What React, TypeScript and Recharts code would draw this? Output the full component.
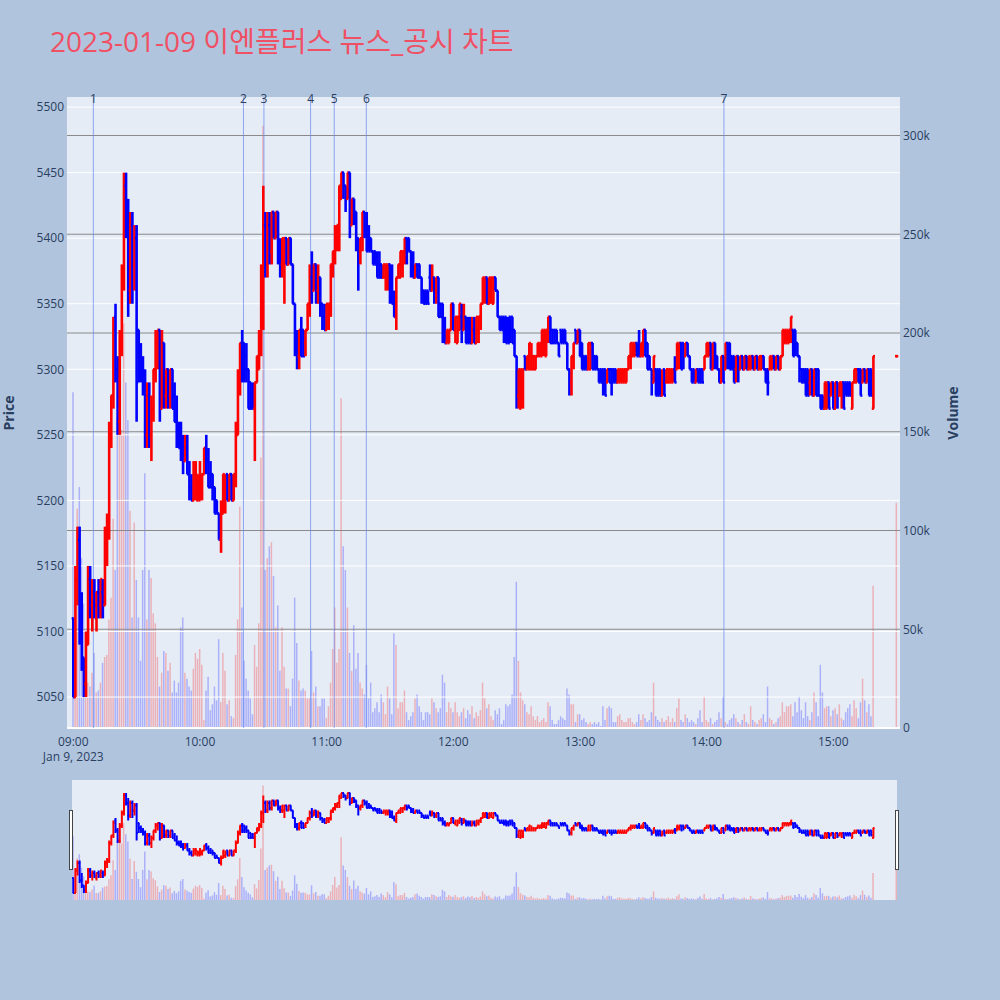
import React from "react";
import { ComposedChart, Bar, Cell, Scatter, XAxis, YAxis, ReferenceLine } from "recharts";

// 1-minute bars, 09:00 .. 15:19, plus the closing auction at 15:30
const opens = [
  5110, 5050, 5140, 5170, 5100, 5080, 5060, 5090, 5140, 5120,
  5130, 5110, 5130, 5120, 5130, 5120, 5170, 5180, 5250, 5280,
  5340, 5300, 5260, 5320, 5370, 5440, 5410, 5360, 5410, 5380,
  5400, 5330, 5310, 5300, 5290, 5250, 5280, 5250, 5270, 5300,
  5320, 5330, 5270, 5320, 5280, 5300, 5280, 5300, 5280, 5260,
  5250, 5250, 5240, 5230, 5240, 5220, 5210, 5200, 5210, 5200,
  5200, 5210, 5220, 5240, 5230, 5220, 5220, 5210, 5200, 5190,
  5170, 5190, 5200, 5220, 5200, 5220, 5200, 5220, 5250, 5290,
  5320, 5320, 5310, 5300, 5290, 5280, 5270, 5290, 5300, 5320,
  5370, 5410, 5380, 5410, 5390, 5420, 5400, 5420, 5390, 5380,
  5380, 5400, 5380, 5400, 5380, 5350, 5320, 5310, 5330, 5330,
  5320, 5330, 5350, 5370, 5360, 5380, 5360, 5370, 5350, 5340,
  5330, 5340, 5350, 5380, 5390, 5400, 5410, 5430, 5450, 5440,
  5430, 5450, 5410, 5430, 5420, 5400, 5390, 5400, 5420, 5410,
  5400, 5400, 5390, 5390, 5380, 5380, 5380, 5370, 5370, 5370,
  5380, 5360, 5350, 5340, 5370, 5370, 5380, 5390, 5400, 5400,
  5390, 5380, 5370, 5380, 5380, 5370, 5360, 5360, 5360, 5370,
  5360, 5370, 5360, 5370, 5350, 5350, 5330, 5320, 5320, 5330,
  5350, 5330, 5320, 5330, 5340, 5330, 5340, 5330, 5330, 5320,
  5330, 5320, 5330, 5340, 5350, 5360, 5370, 5350, 5360, 5350,
  5370, 5360, 5340, 5340, 5340, 5340, 5330, 5340, 5340, 5330,
  5310, 5280, 5270, 5280, 5310, 5300, 5300, 5300, 5300, 5300,
  5310, 5310, 5310, 5320, 5310, 5330, 5340, 5330, 5330, 5330,
  5320, 5330, 5330, 5330, 5320, 5300, 5290, 5310, 5330, 5320,
  5330, 5320, 5310, 5310, 5300, 5300, 5320, 5310, 5310, 5300,
  5300, 5300, 5300, 5290, 5300, 5300, 5300, 5300, 5290, 5290,
  5290, 5290, 5290, 5300, 5310, 5310, 5310, 5320, 5320, 5310,
  5310, 5330, 5320, 5310, 5300, 5290, 5300, 5300, 5300, 5280,
  5300, 5290, 5290, 5290, 5290, 5300, 5300, 5310, 5320, 5320,
  5310, 5320, 5310, 5300, 5300, 5290, 5300, 5300, 5300, 5300,
  5310, 5310, 5320, 5300, 5320, 5310, 5300, 5290, 5310, 5300,
  5320, 5320, 5310, 5310, 5300, 5310, 5300, 5310, 5300, 5310,
  5300, 5300, 5310, 5300, 5310, 5300, 5300, 5310, 5300, 5300,
  5300, 5300, 5310, 5300, 5310, 5300, 5310, 5320, 5320, 5320,
  5330, 5330, 5330, 5320, 5310, 5300, 5300, 5300, 5300, 5290,
  5300, 5280, 5300, 5300, 5280, 5280, 5270, 5270, 5290, 5280,
  5290, 5270, 5290, 5280, 5280, 5290, 5290, 5290, 5290, 5270,
  5290, 5290, 5300, 5300, 5290, 5300, 5290, 5300, 5300, 5270,
];
const highs = [
  5110, 5150, 5180, 5180, 5130, 5080, 5100, 5150, 5150, 5140,
  5140, 5130, 5140, 5140, 5140, 5180, 5190, 5260, 5280, 5340,
  5350, 5310, 5330, 5380, 5450, 5450, 5430, 5420, 5420, 5410,
  5410, 5330, 5320, 5310, 5300, 5290, 5290, 5280, 5300, 5330,
  5330, 5330, 5330, 5320, 5300, 5300, 5300, 5300, 5290, 5280,
  5260, 5260, 5250, 5250, 5250, 5230, 5220, 5230, 5230, 5220,
  5230, 5220, 5240, 5250, 5240, 5230, 5220, 5210, 5200, 5190,
  5200, 5220, 5220, 5220, 5220, 5220, 5220, 5260, 5300, 5320,
  5330, 5320, 5320, 5300, 5290, 5290, 5290, 5310, 5330, 5380,
  5440, 5420, 5420, 5420, 5420, 5420, 5420, 5420, 5400, 5400,
  5400, 5400, 5400, 5400, 5380, 5350, 5330, 5330, 5340, 5330,
  5330, 5350, 5380, 5390, 5380, 5380, 5380, 5370, 5350, 5350,
  5350, 5350, 5380, 5390, 5410, 5410, 5440, 5450, 5450, 5440,
  5450, 5450, 5430, 5430, 5420, 5400, 5400, 5420, 5420, 5420,
  5410, 5400, 5390, 5390, 5390, 5390, 5380, 5380, 5380, 5380,
  5380, 5380, 5360, 5370, 5380, 5390, 5390, 5400, 5400, 5400,
  5390, 5390, 5380, 5380, 5380, 5370, 5360, 5360, 5360, 5380,
  5380, 5370, 5370, 5370, 5350, 5350, 5340, 5330, 5330, 5350,
  5350, 5340, 5340, 5350, 5350, 5350, 5340, 5340, 5340, 5340,
  5340, 5340, 5340, 5350, 5370, 5370, 5370, 5370, 5370, 5370,
  5370, 5360, 5340, 5340, 5340, 5340, 5340, 5340, 5340, 5330,
  5310, 5300, 5300, 5300, 5310, 5310, 5320, 5320, 5310, 5310,
  5320, 5320, 5330, 5330, 5330, 5340, 5340, 5330, 5330, 5330,
  5320, 5330, 5330, 5330, 5320, 5300, 5310, 5320, 5330, 5330,
  5330, 5320, 5310, 5310, 5320, 5320, 5320, 5310, 5310, 5300,
  5300, 5300, 5300, 5300, 5300, 5300, 5300, 5300, 5300, 5300,
  5300, 5300, 5300, 5310, 5320, 5320, 5320, 5320, 5330, 5320,
  5330, 5330, 5320, 5310, 5300, 5310, 5300, 5300, 5300, 5300,
  5300, 5300, 5300, 5300, 5300, 5310, 5320, 5320, 5320, 5320,
  5320, 5320, 5310, 5300, 5300, 5300, 5300, 5300, 5300, 5310,
  5320, 5320, 5320, 5320, 5320, 5310, 5300, 5310, 5310, 5320,
  5320, 5320, 5310, 5310, 5310, 5310, 5310, 5310, 5310, 5310,
  5310, 5310, 5310, 5310, 5310, 5310, 5310, 5310, 5300, 5300,
  5310, 5310, 5310, 5310, 5310, 5310, 5330, 5330, 5330, 5330,
  5340, 5330, 5330, 5320, 5310, 5300, 5300, 5300, 5300, 5300,
  5300, 5300, 5300, 5300, 5280, 5280, 5290, 5290, 5290, 5290,
  5290, 5290, 5290, 5290, 5290, 5290, 5290, 5290, 5290, 5290,
  5300, 5300, 5300, 5300, 5300, 5300, 5300, 5300, 5300, 5310,
];
const lows = [
  5050, 5050, 5120, 5090, 5070, 5050, 5050, 5090, 5110, 5100,
  5110, 5100, 5110, 5110, 5110, 5120, 5150, 5170, 5240, 5270,
  5290, 5250, 5250, 5310, 5360, 5400, 5340, 5350, 5350, 5360,
  5260, 5290, 5290, 5280, 5240, 5240, 5240, 5230, 5260, 5290,
  5300, 5260, 5270, 5270, 5270, 5270, 5270, 5270, 5260, 5240,
  5240, 5230, 5220, 5230, 5220, 5200, 5200, 5200, 5200, 5200,
  5200, 5200, 5220, 5220, 5210, 5210, 5200, 5190, 5190, 5170,
  5160, 5190, 5190, 5200, 5200, 5200, 5200, 5210, 5250, 5280,
  5290, 5290, 5290, 5270, 5270, 5270, 5230, 5290, 5300, 5310,
  5330, 5370, 5370, 5380, 5380, 5400, 5400, 5380, 5370, 5370,
  5350, 5380, 5380, 5380, 5350, 5310, 5300, 5300, 5310, 5310,
  5310, 5330, 5340, 5350, 5360, 5350, 5350, 5340, 5330, 5330,
  5330, 5330, 5340, 5370, 5380, 5390, 5390, 5430, 5430, 5420,
  5430, 5400, 5410, 5410, 5390, 5360, 5380, 5390, 5400, 5390,
  5390, 5390, 5380, 5380, 5370, 5370, 5370, 5370, 5360, 5360,
  5350, 5350, 5340, 5330, 5370, 5370, 5370, 5380, 5380, 5390,
  5370, 5370, 5370, 5370, 5370, 5350, 5350, 5350, 5350, 5360,
  5360, 5350, 5350, 5340, 5340, 5320, 5320, 5320, 5320, 5330,
  5330, 5320, 5320, 5330, 5320, 5330, 5320, 5320, 5320, 5320,
  5320, 5320, 5320, 5330, 5350, 5350, 5350, 5350, 5350, 5350,
  5360, 5340, 5330, 5330, 5320, 5320, 5320, 5320, 5320, 5310,
  5270, 5270, 5270, 5270, 5300, 5300, 5300, 5300, 5300, 5300,
  5310, 5310, 5310, 5310, 5310, 5320, 5320, 5320, 5320, 5320,
  5310, 5320, 5320, 5320, 5300, 5280, 5280, 5300, 5320, 5320,
  5310, 5300, 5300, 5300, 5300, 5300, 5300, 5300, 5300, 5290,
  5290, 5280, 5280, 5290, 5290, 5280, 5290, 5290, 5290, 5290,
  5290, 5290, 5290, 5300, 5300, 5310, 5310, 5310, 5310, 5310,
  5310, 5310, 5300, 5300, 5280, 5290, 5280, 5280, 5280, 5280,
  5280, 5290, 5290, 5290, 5290, 5290, 5300, 5300, 5300, 5300,
  5310, 5310, 5300, 5290, 5290, 5290, 5290, 5290, 5290, 5300,
  5310, 5310, 5300, 5300, 5300, 5300, 5290, 5290, 5290, 5300,
  5300, 5300, 5300, 5290, 5290, 5290, 5300, 5300, 5300, 5300,
  5300, 5300, 5300, 5300, 5300, 5300, 5300, 5300, 5290, 5280,
  5300, 5300, 5300, 5300, 5300, 5300, 5310, 5320, 5320, 5320,
  5320, 5310, 5310, 5310, 5290, 5290, 5290, 5280, 5280, 5280,
  5280, 5280, 5280, 5280, 5270, 5270, 5270, 5270, 5270, 5280,
  5270, 5270, 5270, 5280, 5270, 5270, 5280, 5280, 5280, 5270,
  5290, 5290, 5290, 5280, 5290, 5290, 5290, 5280, 5280, 5270,
];
const closes = [
  5050, 5140, 5170, 5100, 5080, 5060, 5090, 5140, 5120, 5130,
  5120, 5130, 5120, 5140, 5120, 5170, 5180, 5250, 5280, 5330,
  5300, 5260, 5320, 5370, 5440, 5410, 5360, 5410, 5380, 5400,
  5290, 5310, 5300, 5290, 5250, 5280, 5250, 5270, 5300, 5320,
  5330, 5270, 5320, 5280, 5300, 5280, 5300, 5270, 5260, 5250,
  5240, 5240, 5230, 5240, 5220, 5210, 5200, 5220, 5220, 5210,
  5220, 5220, 5240, 5230, 5210, 5210, 5210, 5190, 5190, 5170,
  5190, 5220, 5210, 5200, 5220, 5200, 5220, 5250, 5290, 5320,
  5300, 5300, 5300, 5270, 5270, 5270, 5290, 5310, 5320, 5370,
  5410, 5380, 5410, 5390, 5420, 5400, 5420, 5390, 5380, 5400,
  5400, 5380, 5400, 5380, 5350, 5320, 5310, 5330, 5310, 5310,
  5330, 5350, 5370, 5360, 5380, 5360, 5370, 5350, 5340, 5330,
  5350, 5350, 5380, 5390, 5400, 5410, 5440, 5450, 5440, 5430,
  5450, 5410, 5430, 5420, 5400, 5390, 5400, 5420, 5410, 5390,
  5390, 5390, 5380, 5380, 5370, 5370, 5370, 5380, 5380, 5380,
  5360, 5350, 5340, 5370, 5380, 5390, 5390, 5400, 5390, 5390,
  5380, 5370, 5380, 5370, 5370, 5360, 5350, 5350, 5350, 5360,
  5370, 5360, 5370, 5340, 5340, 5330, 5320, 5330, 5330, 5350,
  5330, 5340, 5340, 5350, 5330, 5340, 5320, 5320, 5320, 5330,
  5320, 5340, 5340, 5350, 5370, 5370, 5350, 5370, 5370, 5370,
  5360, 5340, 5330, 5330, 5330, 5320, 5320, 5330, 5320, 5310,
  5280, 5300, 5300, 5300, 5300, 5310, 5320, 5310, 5310, 5310,
  5320, 5320, 5330, 5330, 5330, 5340, 5320, 5320, 5320, 5320,
  5310, 5320, 5320, 5320, 5300, 5290, 5310, 5320, 5320, 5330,
  5310, 5300, 5300, 5300, 5320, 5320, 5300, 5300, 5300, 5290,
  5290, 5290, 5280, 5300, 5290, 5290, 5290, 5290, 5300, 5300,
  5300, 5300, 5300, 5310, 5320, 5320, 5320, 5310, 5310, 5320,
  5330, 5310, 5300, 5300, 5290, 5310, 5280, 5280, 5280, 5290,
  5280, 5300, 5300, 5300, 5300, 5290, 5320, 5320, 5300, 5310,
  5320, 5310, 5300, 5290, 5290, 5300, 5290, 5290, 5290, 5310,
  5320, 5320, 5300, 5320, 5310, 5300, 5290, 5310, 5290, 5320,
  5310, 5300, 5300, 5290, 5310, 5300, 5310, 5300, 5310, 5300,
  5310, 5310, 5300, 5310, 5300, 5310, 5310, 5300, 5290, 5290,
  5310, 5310, 5300, 5310, 5300, 5310, 5330, 5330, 5330, 5330,
  5340, 5310, 5320, 5310, 5300, 5290, 5290, 5280, 5280, 5300,
  5280, 5300, 5280, 5280, 5270, 5270, 5290, 5290, 5270, 5290,
  5270, 5290, 5280, 5290, 5290, 5270, 5280, 5280, 5280, 5290,
  5300, 5300, 5290, 5280, 5300, 5290, 5300, 5280, 5280, 5310,
];
// volume in thousands of shares
const volumesK = [
  170, 75, 111, 122, 86, 63, 34, 23, 21, 28,
  38, 18, 19, 23, 33, 36, 37, 55, 66, 106,
  80, 157, 181, 151, 205, 175, 156, 110, 56, 104,
  75, 56, 34, 80, 129, 55, 80, 76, 58, 53,
  36, 21, 28, 39, 38, 29, 33, 18, 24, 18,
  23, 51, 56, 28, 25, 21, 19, 30, 38, 35,
  40, 32, 4, 19, 26, 9, 12, 21, 14, 45,
  13, 38, 29, 12, 14, 6, 5, 37, 55, 112,
  61, 34, 25, 19, 15, 7, 42, 31, 53, 137,
  305, 80, 86, 92, 94, 77, 51, 62, 29, 51,
  31, 20, 20, 11, 25, 66, 43, 24, 19, 20,
  19, 15, 15, 39, 18, 21, 11, 11, 15, 15,
  5, 11, 23, 40, 61, 33, 40, 167, 92, 80,
  61, 38, 29, 52, 30, 38, 23, 20, 17, 32,
  15, 23, 8, 10, 13, 8, 17, 13, 7, 21,
  15, 7, 48, 42, 10, 13, 13, 19, 8, 4,
  6, 8, 15, 17, 11, 8, 4, 8, 8, 7,
  15, 13, 10, 8, 10, 27, 23, 8, 13, 10,
  8, 13, 8, 6, 8, 10, 5, 9, 7, 11,
  5, 8, 6, 9, 23, 15, 10, 12, 6, 4,
  9, 7, 10, 2, 4, 12, 11, 12, 17, 36,
  74, 34, 18, 14, 12, 8, 7, 11, 6, 4,
  6, 3, 4, 5, 3, 13, 11, 4, 2, 2,
  4, 6, 5, 4, 20, 17, 12, 12, 3, 7,
  7, 4, 5, 3, 2, 3, 2, 3, 2, 3,
  1, 11, 4, 10, 11, 10, 3, 3, 6, 7,
  4, 3, 3, 5, 5, 3, 2, 3, 7, 4,
  7, 5, 3, 4, 8, 23, 6, 4, 3, 5,
  3, 4, 6, 3, 5, 3, 10, 15, 4, 3,
  7, 5, 3, 4, 3, 2, 5, 9, 3, 16,
  4, 3, 5, 2, 3, 4, 8, 5, 16, 3,
  2, 4, 5, 7, 5, 3, 2, 4, 7, 3,
  2, 11, 4, 3, 2, 4, 5, 7, 3, 21,
  5, 4, 2, 3, 5, 6, 13, 8, 11, 11,
  12, 6, 13, 8, 16, 9, 5, 13, 6, 4,
  8, 18, 13, 6, 32, 18, 10, 11, 11, 6,
  9, 10, 7, 12, 5, 4, 8, 10, 12, 6,
  14, 10, 5, 13, 25, 14, 8, 12, 6, 72,
];
const auctionMinute = 390;
const auctionPrice = 5310;
const auctionVolumeK = 114;

const priceTicks = [5050, 5100, 5150, 5200, 5250, 5300, 5350, 5400, 5450, 5500];
const volumeTicks = [0, 50, 100, 150, 200, 250, 300];
const timeTicks = [0, 60, 120, 180, 240, 300, 360];
const newsMinutes = [9.5, 80.6, 90.3, 112.4, 123.6, 138.8, 308.2];
const newsLabels = ["1", "2", "3", "4", "5", "6", "7"];

const UP = "#FF0000";
const DOWN = "#0000FF";
const INK = "#2a3f5f";
const FONT = "'Open Sans', 'Noto Sans CJK KR', sans-serif";

const PRICE_DOMAIN: [number, number] = [5026.4, 5507.7];
const VOL_DOMAIN: [number, number] = [0, 319.5];
const PLOT_H = 631;

const rows = opens.map((open, i) => ({
  minute: i,
  open,
  high: highs[i],
  low: lows[i],
  close: closes[i],
  volume: volumesK[i],
  up: closes[i] >= open,
}));
rows.push({
  minute: auctionMinute,
  open: auctionPrice,
  high: auctionPrice,
  low: auctionPrice,
  close: auctionPrice,
  volume: auctionVolumeK,
  up: true,
});

function ohlcShape(pxPerUnit: number, lineW: number, tick: number) {
  return (props: any) => {
    const { cx, cy, payload } = props;
    if (cx == null || cy == null || !payload) return <g />;
    const color = payload.up ? UP : DOWN;
    const yLow = cy + (payload.high - payload.low) * pxPerUnit;
    const yOpen = cy + (payload.high - payload.open) * pxPerUnit;
    const yClose = cy + (payload.high - payload.close) * pxPerUnit;
    return (
      <g>
        <line x1={cx} x2={cx} y1={cy} y2={yLow} stroke={color} strokeWidth={lineW} />
        <line x1={cx - tick} x2={cx + 0.5} y1={yOpen} y2={yOpen} stroke={color} strokeWidth={lineW} />
        <line x1={cx - 0.5} x2={cx + tick} y1={yClose} y2={yClose} stroke={color} strokeWidth={lineW} />
      </g>
    );
  };
}

const hhmm = (m: number) => {
  const h = 9 + Math.floor(m / 60);
  const mm = m % 60;
  return `${String(h).padStart(2, "0")}:${String(mm).padStart(2, "0")}`;
};

function TimeTick({ x, y, payload }: any) {
  return (
    <g>
      <text x={x} y={y} dy="0.71em" textAnchor="middle" fill={INK} fontSize={12} fontFamily={FONT}>
        {hhmm(payload.value)}
      </text>
      {payload.value === 0 && (
        <text x={x} y={y + 15} dy="0.71em" textAnchor="middle" fill={INK} fontSize={12} fontFamily={FONT}>
          Jan 9, 2023
        </text>
      )}
    </g>
  );
}

const volK = (v: number) => (v === 0 ? "0" : `${v}k`);

export default function App() {
  const mainShape = ohlcShape(PLOT_H / (PRICE_DOMAIN[1] - PRICE_DOMAIN[0]), 2.6, 1.6);
  const sliderShape = ohlcShape(120 / 480, 2, 1.2);
  return (
    <div style={{ position: "absolute", left: 0, top: 0, width: 1000, height: 1000, background: "#B0C4DE", fontFamily: FONT }}>
      <div style={{ position: "absolute", left: 50, top: 20, fontSize: 28, color: "#F05064", whiteSpace: "nowrap" }}>
        2023-01-09 이엔플러스 뉴스_공시 차트
      </div>
      <div style={{ position: "absolute", left: 67, top: 97, width: 833, height: 631, background: "#E5ECF6" }} />
      <svg style={{ position: "absolute", left: 0, top: 0 }} width={1000} height={1000}>
        <text transform="translate(14,413) rotate(-90)" textAnchor="middle" fill={INK} fontSize={14} fontWeight="bold" fontFamily={FONT}>
          Price
        </text>
        <text transform="translate(958,413) rotate(-90)" textAnchor="middle" fill={INK} fontSize={14} fontWeight="bold" fontFamily={FONT}>
          Volume
        </text>
      </svg>
      <div style={{ position: "absolute", left: 0, top: 0 }}>
        <ComposedChart width={1000} height={780} data={rows} margin={{ top: 97, right: 0, bottom: 0, left: 0 }}>
          <XAxis
            type="number"
            dataKey="minute"
            domain={[-2.98, 391.6]}
            allowDataOverflow
            ticks={timeTicks}
            interval={0}
            height={52}
            axisLine={false}
            tickLine={false}
            tickSize={0}
            tickMargin={9}
            tick={<TimeTick />}
          />
          <YAxis
            yAxisId="price"
            type="number"
            domain={PRICE_DOMAIN}
            allowDataOverflow
            ticks={priceTicks}
            interval={0}
            width={67}
            axisLine={false}
            tickLine={false}
            tickSize={0}
            tickMargin={3}
            tick={{ fill: INK, fontSize: 12, fontFamily: FONT }}
          />
          <YAxis
            yAxisId="vol"
            orientation="right"
            type="number"
            domain={VOL_DOMAIN}
            allowDataOverflow
            ticks={volumeTicks}
            interval={0}
            width={100}
            axisLine={false}
            tickLine={false}
            tickSize={0}
            tickMargin={3}
            tickFormatter={volK}
            tick={{ fill: INK, fontSize: 12, fontFamily: FONT }}
          />
          {priceTicks.map((p) => (
            <ReferenceLine key={`p${p}`} yAxisId="price" y={p} stroke="#ffffff" strokeWidth={1} />
          ))}
          {volumeTicks.map((v) => (
            <ReferenceLine key={`v${v}`} yAxisId="vol" y={v} stroke={v === 0 ? "#ffffff" : "#8a8a8a"} strokeWidth={v === 0 ? 2 : 1} />
          ))}
          <Bar yAxisId="vol" dataKey="volume" barSize={1.5} isAnimationActive={false}>
            {rows.map((r) => (
              <Cell key={r.minute} fill={r.up ? UP : DOWN} fillOpacity={0.25} />
            ))}
          </Bar>
          {newsMinutes.map((m, i) => (
            <ReferenceLine
              key={`n${i}`}
              x={m}
              yAxisId="price"
              stroke="#6C8EF0"
              strokeOpacity={0.75}
              strokeWidth={1}
              label={{ value: newsLabels[i], position: "insideTop", offset: -3, fill: INK, fontSize: 12, fontFamily: FONT }}
            />
          ))}
          <Scatter yAxisId="price" dataKey="high" shape={mainShape} isAnimationActive={false} />
        </ComposedChart>
      </div>
      <div style={{ position: "absolute", left: 72, top: 780, width: 825, height: 120, background: "#E5ECF6" }}>
        <ComposedChart width={825} height={120} data={rows} margin={{ top: 0, right: 0, bottom: 0, left: 0 }}>
          <XAxis type="number" dataKey="minute" domain={[-0.62, 390.2]} allowDataOverflow hide />
          <YAxis yAxisId="price" type="number" domain={[5022, 5502]} allowDataOverflow hide />
          <YAxis yAxisId="vol" type="number" domain={VOL_DOMAIN} allowDataOverflow hide />
          <Bar yAxisId="vol" dataKey="volume" barSize={1.5} isAnimationActive={false}>
            {rows.map((r) => (
              <Cell key={r.minute} fill={r.up ? UP : DOWN} fillOpacity={0.25} />
            ))}
          </Bar>
          <Scatter yAxisId="price" dataKey="high" shape={sliderShape} isAnimationActive={false} />
        </ComposedChart>
      </div>
      <div style={{ position: "absolute", left: 69, top: 810, width: 4, height: 60, background: "#fff", border: "1px solid #444", boxSizing: "border-box" }} />
      <div style={{ position: "absolute", left: 895, top: 810, width: 4, height: 60, background: "#fff", border: "1px solid #444", boxSizing: "border-box" }} />
    </div>
  );
}
